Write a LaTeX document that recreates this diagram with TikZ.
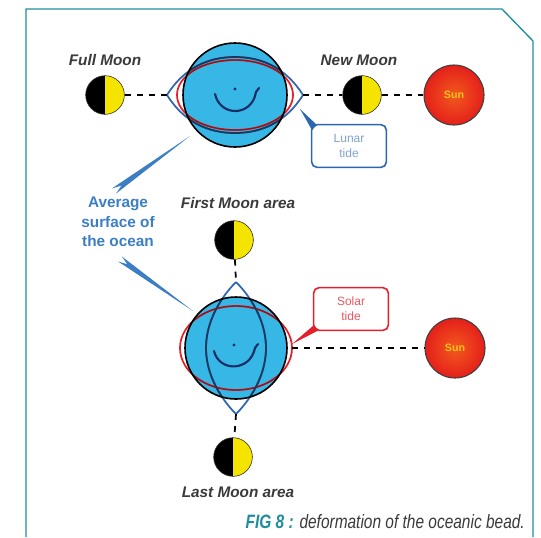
\documentclass[tikz,border=0pt]{standalone}
\usepackage{fontspec}
\setmainfont{Liberation Sans}
\usetikzlibrary{calc}
\definecolor{frameteal}{HTML}{1E8E9C}
\definecolor{ocean}{HTML}{36B7E5}
\definecolor{tideblue}{HTML}{2C66AE}
\definecolor{tidered}{HTML}{E3202A}
\definecolor{moonyellow}{HTML}{F4E400}
\definecolor{sunred}{HTML}{E4201A}
\definecolor{sunorange}{HTML}{F25A1E}
\definecolor{sunyellow}{HTML}{F7C21C}
\definecolor{labelgray}{HTML}{3A3A3A}
\definecolor{avgblue}{HTML}{3B7EC3}
\definecolor{smilenavy}{HTML}{1B2D66}
\begin{document}
\begin{tikzpicture}[x=0.75pt,y=-0.75pt,
    moon/.style={circle, draw=black!80, fill=black, minimum size=29pt, inner sep=0pt,
      path picture={\fill[moonyellow] (path picture bounding box.north) rectangle (path picture bounding box.south east);}},
    sun/.style={circle, draw=black!75, line width=0.8pt, minimum size=45pt, inner sep=0pt,
      inner color=sunorange, outer color=sunred, text=sunyellow, font=\fontsize{8}{9}\selectfont\bfseries},
    moonlabel/.style={text=labelgray, font=\fontsize{11.5}{13}\selectfont\bfseries\itshape},
    tidebox/.style={rounded corners=4pt, line width=1.2pt, minimum width=56pt, minimum height=32pt,
      align=center, fill=white, font=\fontsize{9}{11}\selectfont},
    alignline/.style={draw=black, line width=1.3pt, dash pattern=on 4.5pt off 4.5pt},
    lunartide/.style={draw=tideblue, line width=1.3pt},
    solartide/.style={draw=tidered, line width=1.3pt}
  ]
  \useasboundingbox (0,0) rectangle (541,537);
  % frame
  \draw[frameteal, line width=1pt] (26,537) -- (26,9) -- (502,9) -- (533,41) -- (533,537);

  % upper row: moons and sun aligned with the earth
  \coordinate (earthup) at (235,95);
  \coordinate (lunarW) at (167,95);
  \coordinate (lunarE) at (303,95);
  \node[moon] (fullmoon) at (105,95) {};
  \node[moon] (newmoon) at (362,95) {};
  \node[sun] (sunup) at (454,95) {Sun};
  \node[moonlabel] (fulllabel) at (105,60) {Full Moon};
  \node[moonlabel] (newlabel) at (359,60) {New Moon};

  \fill[ocean] (earthup) circle [radius=52];
  \draw[lunartide] (lunarW) .. controls (184,68) and (208,57) .. (235,57)
    .. controls (262,57) and (286,68) .. (lunarE)
    .. controls (286,122) and (262,133) .. (235,133)
    .. controls (208,133) and (184,122) .. (lunarW);
  \draw[solartide] (earthup) ellipse [x radius=58, y radius=35];
  \begin{scope}
    \clip (earthup) circle [radius=52];
    \draw[tideblue!55!black, line width=1.3pt] (lunarW) .. controls (184,68) and (208,57) .. (235,57)
      .. controls (262,57) and (286,68) .. (lunarE)
      .. controls (286,122) and (262,133) .. (235,133)
      .. controls (208,133) and (184,122) .. (lunarW);
    \draw[tidered!65!black, line width=1pt] (earthup) ellipse [x radius=58, y radius=35];
  \end{scope}
  \draw[black, line width=1.2pt] (earthup) circle [radius=52];
  \draw[smilenavy, line width=1.6pt, line cap=round] (215,94) .. controls (220,117) and (252,117) .. (256,92) -- (259,88);
  \fill[smilenavy] (235,89) circle [radius=1.6];

  \draw[alignline] (fullmoon) -- (lunarW);
  \draw[alignline] (lunarE) -- (newmoon);
  \draw[alignline] (newmoon) -- (sunup);

  % lunar tide callout
  \node[tidebox, draw=tideblue, text=tideblue!60] (lunarbox) at (349,146) {Lunar\\tide};
  \coordinate (lunartip) at (300,109);
  \fill[tideblue] (lunartip) -- ($(lunarbox.north west)+(1,6)$) -- ($(lunarbox.north west)+(6,1)$) -- cycle;

  % lower group: moons in quadrature
  \coordinate (earthlow) at (236,348);
  \coordinate (lunarN) at (236,282);
  \coordinate (lunarS) at (236,414);
  \coordinate (solarE) at (292,348);
  \node[moon] (firstmoon) at (234,240) {};
  \node[moon] (lastmoon) at (233,457) {};
  \node[sun] (sunlow) at (455,348) {Sun};
  \node[moonlabel] (firstlabel) at (238,203) {First Moon area};
  \node[moonlabel] (lastlabel) at (238,492) {Last Moon area};

  \fill[ocean] (earthlow) circle [radius=51];
  \draw[solartide] (earthlow) ellipse [x radius=56, y radius=42];
  \draw[lunartide] (lunarN) .. controls (250,296) and (266,320) .. (266,348)
    .. controls (266,376) and (250,400) .. (lunarS)
    .. controls (222,400) and (206,376) .. (206,348)
    .. controls (206,320) and (222,296) .. (lunarN);
  \begin{scope}
    \clip (earthlow) circle [radius=51];
    \draw[tidered!65!black, line width=1pt] (earthlow) ellipse [x radius=56, y radius=42];
    \draw[tideblue!55!black, line width=1.3pt] (lunarN) .. controls (250,296) and (266,320) .. (266,348)
      .. controls (266,376) and (250,400) .. (lunarS)
      .. controls (222,400) and (206,376) .. (206,348)
      .. controls (206,320) and (222,296) .. (lunarN);
  \end{scope}
  \draw[black, line width=1.2pt] (earthlow) circle [radius=51];
  \draw[smilenavy, line width=1.6pt, line cap=round] (214,351) .. controls (219,372) and (250,372) .. (255,348) -- (258,344);
  \fill[smilenavy] (234,345) circle [radius=1.6];

  \draw[alignline] (firstmoon) -- (lunarN);
  \draw[alignline] (lunarS) -- (lastmoon);
  \draw[alignline] (solarE) -- (sunlow);

  % solar tide callout
  \node[tidebox, draw=tidered, text=tidered!75] (solarbox) at (351,309) {Solar\\tide};
  \coordinate (solartip) at (292,344);
  \fill[tidered] (solartip) -- ($(solarbox.south west)+(1,-6)$) -- ($(solarbox.south west)+(6,-1)$) -- cycle;

  % average ocean surface pointers
  \node[text=avgblue, align=center, font=\fontsize{11.5}{14.5}\selectfont\bfseries] (avglabel) at (118,222)
    {Average\\surface of\\the ocean};
  \coordinate (avgtipup) at (190,136);
  \coordinate (avgtailup) at (114,191);
  \coordinate (avgtiplow) at (193,311);
  \coordinate (avgtaillow) at (120,259);
  \foreach \tip/\tail in {avgtipup/avgtailup, avgtiplow/avgtaillow}
    \fill[avgblue] (\tip) -- ($(\tail)!0.035!90:(\tip)$) -- ($(\tail)!0.1!(\tip)$)
      -- ($(\tail)!0.035!-90:(\tip)$) -- cycle;

  % caption
  \node[anchor=east, xscale=0.8, font=\fontsize{14.5}{16}\selectfont\itshape, text=labelgray, inner sep=0pt] (caption) at (525,522)
    {{\color{frameteal}\bfseries FIG 8 :} deformation of the oceanic bead.};
\end{tikzpicture}
\end{document}
